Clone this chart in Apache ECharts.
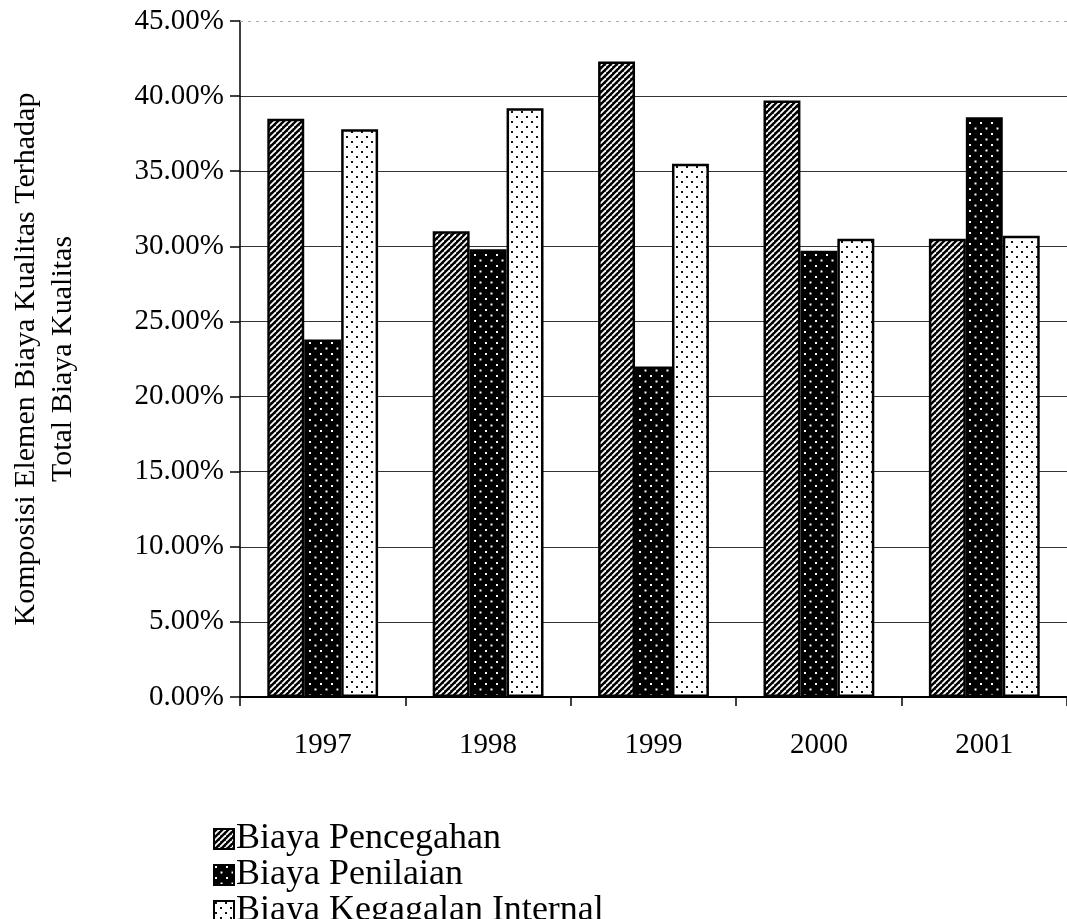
<!DOCTYPE html>
<html>
<head>
<meta charset="utf-8">
<script src="https://cdn.jsdelivr.net/npm/echarts@6/dist/echarts.min.js"></script>
<style>
  html, body { margin: 0; padding: 0; background: #fff; }
  #chart { width: 1067px; height: 919px; }
</style>
</head>
<body>
<div id="chart"></div>
<script>
// data
const years = ['1997', '1998', '1999', '2000', '2001'];
const pencegahan = [38.5, 31.0, 42.3, 39.7, 30.5];
const penilaian = [23.8, 29.8, 22.0, 29.7, 38.6];
const kegagalanInternal = [37.8, 39.2, 35.5, 30.5, 30.7];
const seriesNames = ['Biaya Pencegahan', 'Biaya Penilaian', 'Biaya Kegagalan Internal'];

// little canvases used as fill patterns
function hatch() {
  const c = document.createElement('canvas');
  c.width = 6; c.height = 6;
  const g = c.getContext('2d');
  g.fillStyle = '#000';
  g.fillRect(0, 0, 6, 6);
  g.strokeStyle = '#fff';
  g.lineWidth = 1.8;
  for (let k = -6; k <= 12; k += 6) {
    g.beginPath();
    g.moveTo(k, 6);
    g.lineTo(k + 6, 0);
    g.stroke();
  }
  return c;
}
function dots(bg, fg, size, r) {
  const c = document.createElement('canvas');
  c.width = size; c.height = size;
  const g = c.getContext('2d');
  g.fillStyle = bg;
  g.fillRect(0, 0, size, size);
  g.fillStyle = fg;
  g.fillRect(1, 1, r, r);
  g.fillRect(1 + size / 2, 1 + size / 2, r, r);
  return c;
}

const fills = [
  { image: hatch(), repeat: 'repeat' },
  { image: dots('#000', '#fff', 11, 2), repeat: 'repeat' },
  { image: dots('#fff', '#111', 10, 2), repeat: 'repeat' }
];
const values = [pencegahan, penilaian, kegagalanInternal];

const chart = echarts.init(document.getElementById('chart'));
const font = '"Liberation Serif", "Times New Roman", serif';
const legendTops = [821, 857, 893];

const option = {
  animation: false,
  backgroundColor: '#fff',
  grid: { left: 236, right: -3, top: 21, bottom: 222 },
  legend: seriesNames.map((name, i) => ({
    orient: 'vertical',
    left: 213,
    top: legendTops[i],
    padding: 0,
    icon: 'rect',
    itemWidth: 20,
    itemHeight: 20,
    itemGap: 0,
    selectedMode: false,
    textStyle: { fontFamily: font, fontSize: 36, color: '#000', padding: [0, 0, 0, -3] },
    data: [name]
  })),
  xAxis: {
    type: 'category',
    data: years,
    axisLine: { lineStyle: { color: '#000', width: 2 } },
    axisTick: { show: true, length: 9, lineStyle: { color: '#000', width: 1.5 } },
    axisLabel: { fontFamily: font, fontSize: 29, color: '#000', margin: 34 }
  },
  yAxis: {
    type: 'value',
    min: 0,
    max: 45,
    interval: 5,
    name: 'Komposisi Elemen Biaya Kualitas Terhadap\nTotal Biaya Kualitas',
    nameLocation: 'middle',
    nameGap: 158,
    nameRotate: 90,
    nameTextStyle: { fontFamily: font, fontSize: 30, color: '#000', lineHeight: 37 },
    axisLine: { show: true, lineStyle: { color: '#000', width: 1.5 } },
    axisTick: { show: true, length: 10, lineStyle: { color: '#000', width: 1.5 } },
    axisLabel: {
      fontFamily: font, fontSize: 29, color: '#000', margin: 16,
      formatter: v => v.toFixed(2) + '%'
    },
    splitLine: { showMaxLine: false, lineStyle: { color: '#333', width: 1.2 } }
  },
  series: seriesNames.map((name, i) => ({
    name: name,
    type: 'bar',
    data: values[i],
    barGap: '0%',
    barCategoryGap: '33%',
    itemStyle: { color: fills[i], borderColor: '#000', borderWidth: 2.5 },
    markLine: i === 0 ? {
      silent: true,
      symbol: 'none',
      label: { show: false },
      lineStyle: { color: '#aaa', type: [3, 5], width: 1 },
      data: [{ yAxis: 45 }]
    } : undefined
  }))
};
chart.setOption(option);
</script>
</body>
</html>
